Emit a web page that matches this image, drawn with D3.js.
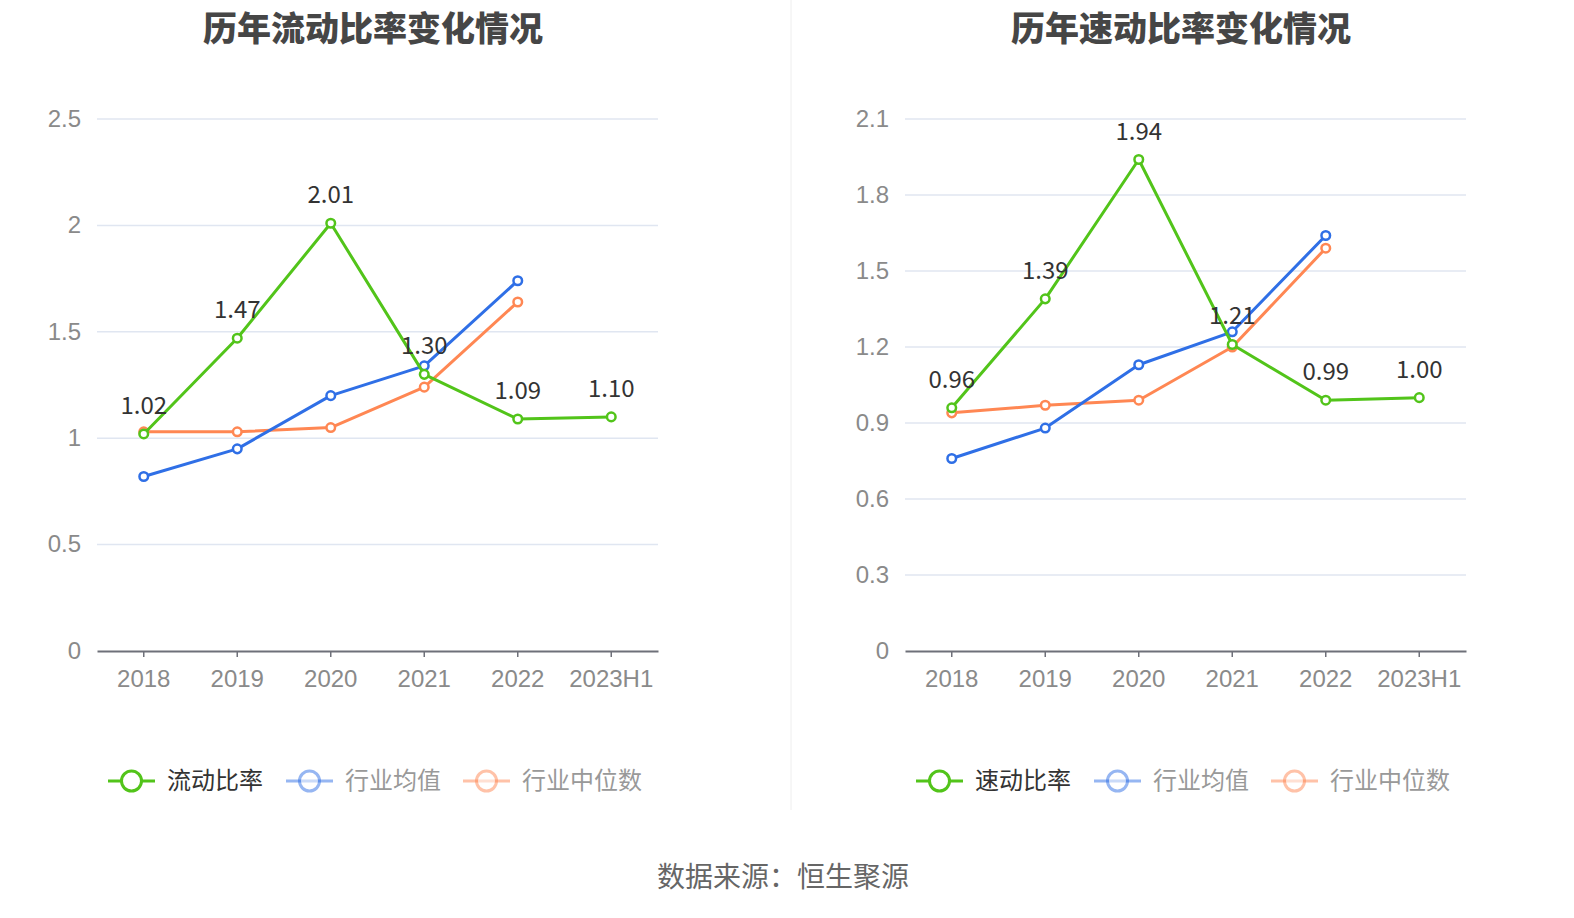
<!DOCTYPE html>
<html><head><meta charset="utf-8">
<script src="https://cdn.jsdelivr.net/npm/d3@7"></script>
<style>body{margin:0;background:#fff;}svg{display:block;font-family:"Microsoft YaHei","Noto Sans CJK SC",sans-serif;}</style>
</head><body><svg id="c" width="1574" height="918"></svg>
<script>
const categories = ["2018","2019","2020","2021","2022","2023H1"];
const currentRatio = [1.02,1.47,2.01,1.30,1.09,1.10];
const currentAvg = [0.82,0.95,1.20,1.34,1.74,null];
const currentMedian = [1.03,1.03,1.05,1.24,1.64,null];
const quickRatio = [0.96,1.39,1.94,1.21,0.99,1.00];
const quickAvg = [0.76,0.88,1.13,1.26,1.64,null];
const quickMedian = [0.94,0.97,0.99,1.20,1.59,null];
const leftTicks = [0,0.5,1,1.5,2,2.5];
const rightTicks = [0,0.3,0.6,0.9,1.2,1.5,1.8,2.1];

const GREEN="#52c41a", BLUE="#2f6fe6", ORANGE="#ff8753";
const svg = d3.select("#c");

svg.append("line").attr("x1",791).attr("x2",791).attr("y1",0).attr("y2",810).attr("stroke","#eeeeee").attr("stroke-width",1);

function chart(x0, title, mainName, main, avg, med, ticks, ymax){
  const L=x0+97, R=x0+658, T=119, B=651;
  const g = svg.append("g");
  const x = d3.scaleBand().domain(categories).range([L,R]);
  const y = d3.scaleLinear().domain([0,ymax]).range([B,T]);
  const cx = d => x(d)+x.bandwidth()/2;
  g.append("text").attr("x",x0+373).attr("y",41).attr("text-anchor","middle")
    .attr("font-size",34).attr("font-weight",900).attr("fill","#464646").text(title);
  // grid
  g.selectAll(".grid").data(ticks.filter(t=>t>0)).join("line")
    .attr("x1",L).attr("x2",R).attr("y1",d=>y(d)).attr("y2",d=>y(d))
    .attr("stroke","#e0e6f1").attr("stroke-width",1.5);
  // y labels
  const yAxis = d3.axisLeft(y).tickValues(ticks).tickSize(0).tickPadding(16).tickFormat(d=>String(d));
  const ya = g.append("g").attr("transform",`translate(${L},0)`).call(yAxis);
  ya.select(".domain").remove();
  ya.selectAll("text").attr("font-size",24).attr("fill","#8a8a8a").attr("font-family","inherit").attr("dy","0.3em");
  // x axis
  const xAxis = d3.axisBottom(x).tickSize(6).tickSizeOuter(0).tickPadding(13);
  const xa = g.append("g").attr("transform",`translate(0,${B})`).call(xAxis);
  xa.select(".domain").attr("stroke","#6e7079").attr("stroke-width",2);
  xa.selectAll(".tick line").attr("stroke","#6e7079").attr("stroke-width",1.5);
  xa.selectAll("text").attr("font-size",24).attr("fill","#8a8a8a").attr("font-family","inherit");
  const line = d3.line().defined(d=>d.v!=null).x(d=>cx(d.c)).y(d=>y(d.v));
  function series(vals,color){
    const data = categories.map((c,i)=>({c,v:vals[i]}));
    g.append("path").datum(data).attr("d",line).attr("fill","none").attr("stroke",color).attr("stroke-width",3).attr("stroke-linejoin","round");
    g.selectAll(null).data(data.filter(d=>d.v!=null)).join("circle")
      .attr("cx",d=>cx(d.c)).attr("cy",d=>y(d.v)).attr("r",4.3)
      .attr("fill","#fff").attr("stroke",color).attr("stroke-width",2.5);
    return data;
  }
  series(med,ORANGE);
  series(avg,BLUE);
  const md = series(main,GREEN);
  g.selectAll(null).data(md).join("text")
    .attr("x",d=>cx(d.c)).attr("y",d=>y(d.v)-20).attr("text-anchor","middle")
    .attr("font-size",24).attr("fill","#333").text(d=>d.v.toFixed(2));
  // legend
  const items=[{n:mainName,c:GREEN,x:x0+108,on:true},{n:"行业均值",c:BLUE,x:x0+286,on:false},{n:"行业中位数",c:ORANGE,x:x0+463,on:false}];
  const lg = g.selectAll(null).data(items).join("g").attr("transform",d=>`translate(${d.x},781)`);
  lg.append("line").attr("x1",0).attr("x2",47).attr("stroke",d=>d.c).attr("stroke-width",3).attr("opacity",d=>d.on?1:0.5);
  lg.append("circle").attr("cx",23.5).attr("r",10).attr("fill","#fff").attr("stroke",d=>d.c).attr("stroke-width",3).attr("opacity",d=>d.on?1:0.5);
  lg.append("text").attr("x",59).attr("dy","0.35em").attr("font-size",24).attr("fill",d=>d.on?"#333":"#999").text(d=>d.n);
}
chart(0,"历年流动比率变化情况","流动比率",currentRatio,currentAvg,currentMedian,leftTicks,2.5);
chart(808,"历年速动比率变化情况","速动比率",quickRatio,quickAvg,quickMedian,rightTicks,2.1);

svg.append("text").attr("x",783).attr("y",887).attr("text-anchor","middle").attr("font-size",28).attr("fill","#666").text("数据来源：恒生聚源");
</script></body></html>
